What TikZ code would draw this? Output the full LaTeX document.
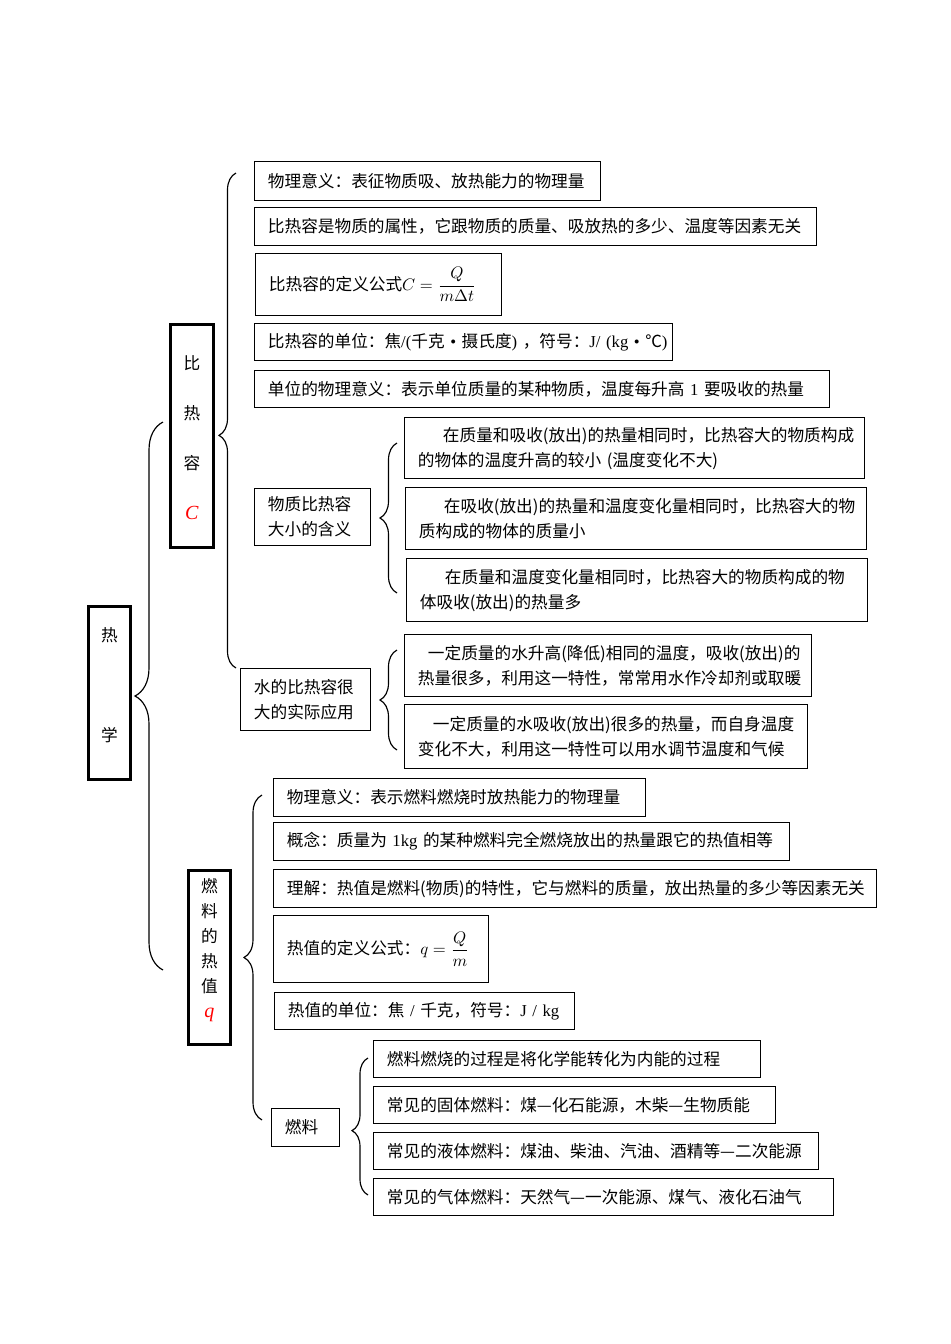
\documentclass[tikz,border=0pt]{standalone}
\usepackage{amsmath}
\usepackage{fontspec}
\setmainfont{Liberation Serif}
\newfontfamily\cjk{Noto Sans CJK SC}
\usetikzlibrary{decorations.pathreplacing}
\newcommand{\en}[1]{{\rmfamily #1}}

\begin{document}
\begin{tikzpicture}[x=0.6pt, y=-0.6pt,
    box/.style={draw, line width=0.7pt, anchor=north west, inner xsep=8pt, inner ysep=0pt,
                align=left, font=\cjk\fontsize{10}{15}\selectfont},
    head/.style={draw, line width=1.6pt, anchor=north west, inner sep=0pt, align=center,
                 font=\cjk\fontsize{10}{15}\selectfont},
    brc/.style={decorate, decoration={brace, amplitude=#1}, line width=0.7pt}]

    \useasboundingbox (0,0) rectangle (950,1344);

    % heads
    \node[head, minimum width=25.2pt, minimum height=103.8pt] (rexue) at (87,605) {热\\[45pt]学\\[-5pt]};
    \node[head, minimum width=25.8pt, minimum height=133.8pt] (brr) at (169,323)
        {\\[-4pt]比\\[15pt]热\\[15pt]容\\[15pt]{\rmfamily\itshape\fontsize{12}{15}\selectfont\color{red}C}};
    \node[head, minimum width=25.2pt, minimum height=104.4pt] (rz) at (187,869)
        {燃\\料\\的\\热\\值\\{\rmfamily\itshape\fontsize{12}{15}\selectfont\color{red}q}\\[-4pt]};

    % specific heat
    \node[box, text width=191.6pt, minimum height=23.4pt] (c1) at (254,161) {物理意义：表征物质吸、放热能力的物理量};
    \node[box, text width=321.2pt, minimum height=22.8pt] (c2) at (254,207) {比热容是物质的属性，它跟物质的质量、吸放热的多少、温度等因素无关};
    \node[box, text width=131.6pt, minimum height=37.2pt] (c3) at (255,253) {比热容的定义公式$C=\dfrac{Q}{m\Delta t}$};
    \node[box, text width=234.8pt, minimum height=22.2pt] (c4) at (254,323) {\mbox{比热容的单位：焦\en{/(}千克\en{~•~}摄氏度\en{)}~，符号：\en{J/~(kg~•~}℃\en{)}}};
    \node[box, text width=329pt, minimum height=22.2pt] (c5) at (254,370) {单位的物理意义：表示单位质量的某种物质，温度每升高\en{ 1 }要吸收的热量};
    \node[box, text width=53.6pt, minimum height=34.2pt] (c6) at (254,488) {物质比热容\\大小的含义};
    \node[box, text width=260pt, minimum height=36.6pt] (c6a) at (404,417)
        {\hspace*{15pt}在质量和吸收(放出)的热量相同时，比热容大的物质构成\\的物体的温度升高的较小 (温度变化不大)};
    \node[box, text width=260.6pt, minimum height=37.2pt] (c6b) at (405,487)
        {\hspace*{15pt}在吸收(放出)的热量和温度变化量相同时，比热容大的物\\质构成的物体的质量小};
    \node[box, text width=260.6pt, minimum height=37.8pt] (c6c) at (406,558)
        {\hspace*{15pt}在质量和温度变化量相同时，比热容大的物质构成的物\\体吸收(放出)的热量多};
    \node[box, text width=62pt, minimum height=37.2pt] (c7) at (240,668) {水的比热容很\\大的实际应用};
    \node[box, text width=228.2pt, minimum height=37.2pt] (c7a) at (404,634)
        {\hspace*{6pt}一定质量的水升高(降低)相同的温度，吸收(放出)的\\热量很多，利用这一特性，常常用水作冷却剂或取暖};
    \node[box, text width=225.8pt, minimum height=38.4pt] (c7b) at (404,704)
        {\hspace*{9pt}一定质量的水吸收(放出)很多的热量，而自身温度\\变化不大，利用这一特性可以用水调节温度和气候};

    % heat value
    \node[box, text width=207.2pt, minimum height=22.8pt] (q1) at (273,778) {物理意义：表示燃料燃烧时放热能力的物理量};
    \node[box, text width=293.6pt, minimum height=22.8pt] (q2) at (273,822) {概念：质量为 \en{1kg} 的某种燃料完全燃烧放出的热量跟它的热值相等};
    \node[box, text width=345.8pt, minimum height=22.8pt] (q3) at (273,869) {理解：热值是燃料(物质)的特性，它与燃料的质量，放出热量的多少等因素无关};
    \node[box, text width=113pt, minimum height=40.2pt] (q4) at (273,915) {热值的定义公式：$q=\dfrac{Q}{m}$};
    \node[box, text width=164pt, minimum height=22.2pt] (q5) at (274,992) {热值的单位：焦 \en{/} 千克，符号：\en{J / kg}};
    \node[box, text width=24.8pt, minimum height=22.8pt] (q6) at (271,1108) {燃料};
    \node[box, text width=216.2pt, minimum height=22.2pt] (q6a) at (373,1040) {燃料燃烧的过程是将化学能转化为内能的过程};
    \node[box, text width=225.2pt, minimum height=22.2pt] (q6b) at (373,1086) {常见的固体燃料：煤—化石能源，木柴—生物质能};
    \node[box, text width=251pt, minimum height=22.2pt] (q6c) at (373,1132) {常见的液体燃料：煤油、柴油、汽油、酒精等—二次能源};
    \node[box, text width=260pt, minimum height=22.2pt] (q6d) at (373,1178) {常见的气体燃料：天然气—一次能源、煤气、液化石油气};

    % brace ends
    \coordinate (rx1) at (163,970);  \coordinate (rx2) at (163,422);
    \coordinate (br1) at (236,668);  \coordinate (br2) at (236,173);
    \coordinate (rz1) at (262,1120); \coordinate (rz2) at (262,795);
    \coordinate (hy1) at (397,593);  \coordinate (hy2) at (397,443);
    \coordinate (yy1) at (397,750);  \coordinate (yy2) at (397,650);
    \coordinate (rl1) at (368,1195); \coordinate (rl2) at (368,1058);

    \draw[brc=16.8pt, decoration={aspect=0.5}] (rx1) -- (rx2);
    \draw[brc=10.2pt, decoration={aspect=0.47}] (br1) -- (br2);
    \draw[brc=10.8pt, decoration={aspect=0.5}] (rz1) -- (rz2);
    \draw[brc=10.2pt, decoration={aspect=0.5}] (hy1) -- (hy2);
    \draw[brc=10.2pt, decoration={aspect=0.5}] (yy1) -- (yy2);
    \draw[brc=9.6pt, decoration={aspect=0.47}] (rl1) -- (rl2);
\end{tikzpicture}
\end{document}
